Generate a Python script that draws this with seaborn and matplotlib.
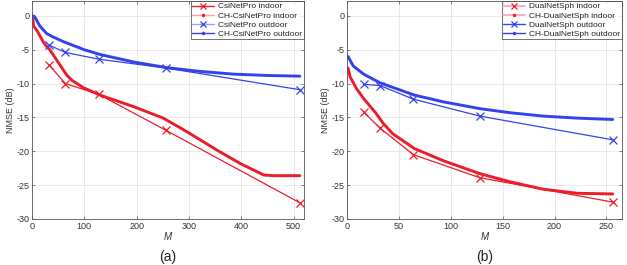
import matplotlib
matplotlib.use("Agg")
import matplotlib.pyplot as plt
import seaborn as sns
import pandas as pd
from matplotlib.lines import Line2D

# ---- data (a) ----
m_a_marks = [32, 64, 128, 256, 512]
csinetpro_indoor = [-7.2, -10.0, -11.6, -16.9, -27.6]
csinetpro_outdoor = [-4.3, -5.4, -6.4, -7.7, -10.9]
m_a_ch_in = [1, 3, 9, 22, 28, 34, 47, 66, 76, 98, 130, 194, 251, 296, 353, 398, 443, 462, 512]
ch_csinetpro_indoor = [0, -1.5, -2.1, -3.9, -4.5, -5.0, -6.5, -8.7, -9.5, -10.6, -11.7, -13.4,
                       -15.1, -17.1, -19.8, -21.8, -23.5, -23.6, -23.6]
m_a_ch_out = [1, 5, 10, 15, 22, 28, 40, 60, 80, 100, 130, 194, 258, 321, 385, 449, 512]
ch_csinetpro_outdoor = [0, -0.1, -0.8, -1.5, -2.1, -2.6, -3.1, -3.8, -4.4, -5.0, -5.7, -6.8,
                        -7.65, -8.2, -8.6, -8.8, -8.9]
labels_a = ["CsiNetPro indoor", "CH-CsiNetPro indoor", "CsiNetPro outdoor", "CH-CsiNetPro outdoor"]

# ---- data (b) ----
m_b_marks = [16, 32, 64, 128, 256]
dualnetsph_indoor = [-14.2, -16.6, -20.5, -23.9, -27.5]
dualnetsph_outdoor = [-10.1, -10.3, -12.3, -14.8, -18.3]
m_b_ch_in = [1, 3, 9, 16, 28, 35, 44, 65, 93, 128, 157, 189, 222, 256]
ch_dualnetsph_indoor = [-7.7, -9.0, -10.7, -12.2, -14.4, -15.9, -17.4, -19.6, -21.4, -23.3,
                        -24.5, -25.6, -26.2, -26.3]
m_b_ch_out = [1, 6, 16, 32, 65, 93, 128, 157, 189, 222, 256]
ch_dualnetsph_outdoor = [-6.0, -7.4, -8.6, -9.9, -11.7, -12.7, -13.7, -14.3, -14.8, -15.1, -15.3]
labels_b = ["DualNetSph indoor", "CH-DualNetSph indoor", "DualNetSph outdoor", "CH-DualNetSph outdoor"]

yticks = [0, -5, -10, -15, -20, -25, -30]

sns.set_theme(style="whitegrid")
plt.rcParams["font.family"] = ["Liberation Sans", "DejaVu Sans"]
plt.rcParams["axes.unicode_minus"] = False

RED = "#ec1c2a"
PINK = "#f5a3b5"
BLUE = "#3343ec"
LBLUE = "#9aa4f2"

fig = plt.figure(figsize=(6.27, 2.65), dpi=100)
ax1 = fig.add_axes([32 / 627, 46 / 265, 272 / 627, 218 / 265])
ax2 = fig.add_axes([347 / 627, 46 / 265, 275 / 627, 218 / 265])


def draw(ax, mk_x, mk_in, mk_out, ch_in_x, ch_in, ch_out_x, ch_out, marker_in_color, thin_out_color):
    sns.lineplot(x=ch_in_x, y=ch_in, ax=ax, color=RED, linewidth=2.1, sort=False,
                 estimator=None, legend=False)
    sns.lineplot(x=ch_out_x, y=ch_out, ax=ax, color=BLUE, linewidth=2.1, sort=False,
                 estimator=None, legend=False)
    sns.lineplot(x=mk_x, y=mk_in, ax=ax, color=marker_in_color, linewidth=0.9, marker="x",
                 markersize=6, markeredgewidth=0.9, markeredgecolor=marker_in_color,
                 sort=False, estimator=None, legend=False)
    sns.lineplot(x=mk_x, y=mk_out, ax=ax, color=thin_out_color, linewidth=0.9, marker="x",
                 markersize=6, markeredgewidth=0.9, markeredgecolor=thin_out_color,
                 sort=False, estimator=None, legend=False)


draw(ax1, m_a_marks, csinetpro_indoor, csinetpro_outdoor, m_a_ch_in, ch_csinetpro_indoor,
     m_a_ch_out, ch_csinetpro_outdoor, RED, BLUE)
draw(ax2, m_b_marks, dualnetsph_indoor, dualnetsph_outdoor, m_b_ch_in, ch_dualnetsph_indoor,
     m_b_ch_out, ch_dualnetsph_outdoor, RED, BLUE)

ax1.set_xlim(0, 520)
ax1.set_xticks([0, 100, 200, 300, 400, 500])
ax2.set_xlim(0, 265)
ax2.set_xticks([0, 50, 100, 150, 200, 250])

handles_a = [
    Line2D([], [], color=RED, lw=1.0, marker="x", ms=5, mew=0.9),
    Line2D([], [], color=PINK, lw=1.0, marker=".", ms=3, mfc=RED, mec=RED),
    Line2D([], [], color=LBLUE, lw=1.0, marker="x", ms=5, mew=0.9, mec=BLUE),
    Line2D([], [], color=BLUE, lw=1.0, marker=".", ms=3),
]
handles_b = [
    Line2D([], [], color=PINK, lw=1.2, marker="x", ms=5, mew=0.9, mec=RED),
    Line2D([], [], color=PINK, lw=1.2, marker=".", ms=3, mfc=RED, mec=RED),
    Line2D([], [], color=BLUE, lw=1.0, marker="x", ms=5, mew=0.9),
    Line2D([], [], color=BLUE, lw=1.0, marker=".", ms=3),
]

for ax, handles, labels, tag in [(ax1, handles_a, labels_a, "(a)"), (ax2, handles_b, labels_b, "(b)")]:
    ax.set_ylim(-30, 2.2)
    ax.set_yticks(yticks)
    ax.set_facecolor("white")
    ax.grid(True, color="#e6e6e6", linewidth=0.6)
    for s in ax.spines.values():
        s.set_visible(True)
        s.set_color("#555555")
        s.set_linewidth(0.6)
    ax.tick_params(axis="both", which="both", direction="in", length=2.5, width=0.5,
                   color="#555555", labelsize=6.5, labelcolor="#333333", pad=2,
                   top=True, right=True, bottom=True, left=True)
    ax.set_xlabel("M", fontsize=7, style="italic", color="#333333", labelpad=1)
    ax.set_ylabel("NMSE (dB)", fontsize=6.5, color="#333333", labelpad=1)
    leg = ax.legend(handles, labels, loc="upper right", fontsize=6, frameon=True,
                    fancybox=False, borderpad=0.2, labelspacing=0.15, handlelength=2.6,
                    handletextpad=0.5, borderaxespad=0.0)
    leg.get_frame().set_edgecolor("#333333")
    leg.get_frame().set_linewidth(0.6)
    for t in leg.get_texts():
        t.set_color("#222222")
    ax.text(0.5, -0.175, tag, transform=ax.transAxes, ha="center", va="center",
            fontsize=10, color="#222222")

fig.savefig("out.png", dpi=100)
